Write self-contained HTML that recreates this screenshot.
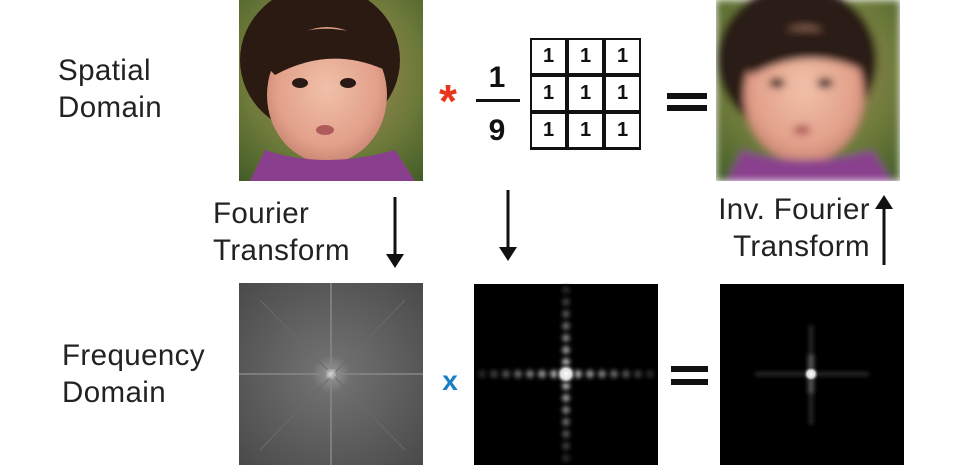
<!DOCTYPE html>
<html><head><meta charset="utf-8"><style>
html,body{margin:0;padding:0;background:#fff;}
body{width:953px;height:465px;position:relative;overflow:hidden;font-family:"Liberation Sans",sans-serif;color:#222;}
.t{position:absolute;font-size:29.5px;line-height:37px;letter-spacing:0.4px;}
.box{position:absolute;overflow:hidden;}
.cell{position:absolute;width:37px;height:37px;box-sizing:border-box;font-size:20px;font-weight:bold;text-align:center;line-height:33px;color:#111;}
</style></head><body>
<div class="t" style="left:58px;top:52px;">Spatial<br>Domain</div>
<div class="t" style="left:62px;top:337px;">Frequency<br>Domain</div>
<div class="t" style="left:213px;top:195px;">Fourier<br>Transform</div>
<div class="t" style="left:700px;top:191px;text-align:right;width:170px;">Inv. Fourier<br>Transform</div>

<svg width="953" height="465" style="position:absolute;left:0;top:0">
<defs>
<radialGradient id="bg1" cx="0.5" cy="0.4" r="0.8"><stop offset="0" stop-color="#b08a60"/><stop offset="0.6" stop-color="#6d7a3a"/><stop offset="1" stop-color="#3f5a25"/></radialGradient>
<radialGradient id="face" cx="0.5" cy="0.45" r="0.6"><stop offset="0" stop-color="#f0c0a8"/><stop offset="0.7" stop-color="#e2a08a"/><stop offset="1" stop-color="#c27e6c"/></radialGradient>
<filter id="blur"><feGaussianBlur stdDeviation="4"/></filter>
<filter id="blur2"><feGaussianBlur stdDeviation="2"/></filter>
<radialGradient id="fft" cx="0.5" cy="0.5" r="0.7"><stop offset="0" stop-color="#9a9a9a"/><stop offset="0.15" stop-color="#6e6e6e"/><stop offset="1" stop-color="#4a4a4a"/></radialGradient>
<radialGradient id="spot" cx="0.5" cy="0.5" r="0.5"><stop offset="0" stop-color="#fff"/><stop offset="0.5" stop-color="#ddd"/><stop offset="1" stop-color="#000" stop-opacity="0"/></radialGradient>
<clipPath id="c1"><rect x="239" y="0" width="184" height="181"/></clipPath>
<clipPath id="c2"><rect x="716" y="0" width="184" height="181"/></clipPath>
</defs>
<g clip-path="url(#c1)">
 <g id="photo">
 <rect x="239" y="0" width="184" height="181" fill="url(#bg1)"/>
 <ellipse cx="320" cy="60" rx="80" ry="75" fill="#2a1a12"/>
 <ellipse cx="327" cy="95" rx="60" ry="68" fill="url(#face)"/>
 <path d="M260 60 Q300 10 380 40 L385 70 Q330 45 275 75Z" fill="#2a1a12"/>
 <ellipse cx="300" cy="83" rx="8" ry="5" fill="#2a1814"/>
 <ellipse cx="348" cy="83" rx="8" ry="5" fill="#2a1814"/>
 <ellipse cx="325" cy="130" rx="9" ry="5" fill="#b05a5a"/>
 <path d="M250 181 L265 150 Q325 170 395 150 L415 181Z" fill="#8a3f8e"/>
 </g>
</g>
<g clip-path="url(#c2)" filter="url(#blur)">
 <use href="#photo" transform="translate(477,0)"/>
</g>

<text x="448" y="117" font-size="46" font-weight="bold" fill="#e8361c" text-anchor="middle">*</text>
<text x="497" y="87" font-size="30" font-weight="bold" fill="#111" text-anchor="middle">1</text>
<rect x="476" y="99" width="44" height="3" fill="#111"/>
<text x="497" y="140" font-size="30" font-weight="bold" fill="#111" text-anchor="middle">9</text>
<rect x="667" y="93" width="40" height="6" fill="#111"/>
<rect x="667" y="105" width="40" height="6" fill="#111"/>
<rect x="671" y="366" width="37" height="6" fill="#111"/>
<rect x="671" y="379" width="37" height="6" fill="#111"/>
<text x="450" y="390" font-size="28" font-weight="bold" fill="#1a7fc4" text-anchor="middle">x</text>

<g stroke="#111" stroke-width="3" fill="#111">
<line x1="395" y1="197" x2="395" y2="258"/><path d="M386 254 L404 254 L395 268Z" stroke="none"/></g>
<g stroke="#111" stroke-width="3" fill="#111">
<line x1="508" y1="190" x2="508" y2="251"/><path d="M499 247 L517 247 L508 261Z" stroke="none"/></g>
<g stroke="#111" stroke-width="3" fill="#111">
<line x1="884" y1="207" x2="884" y2="265"/><path d="M875 209 L893 209 L884 195Z" stroke="none"/></g>

<g>
<rect x="239" y="283" width="184" height="182" fill="url(#fft)"/>
<line x1="331" y1="283" x2="331" y2="465" stroke="#888" stroke-width="1.5"/>
<line x1="239" y1="374" x2="423" y2="374" stroke="#888" stroke-width="1.5"/>
<line x1="260" y1="300" x2="405" y2="450" stroke="#6a6a6a" stroke-width="1"/>
<line x1="405" y1="300" x2="260" y2="450" stroke="#6a6a6a" stroke-width="1"/>
<circle cx="331" cy="374" r="4" fill="#ddd" filter="url(#blur2)"/>
</g>
<g>
<rect x="474" y="284" width="184" height="181" fill="#000"/>
<g filter="url(#blur2)" id="kspots"></g>
<circle cx="566" cy="374" r="11" fill="url(#spot)"/>
</g>
<g>
<rect x="720" y="284" width="184" height="181" fill="#000"/>
<g filter="url(#blur2)">
<rect x="809" y="325" width="4" height="100" fill="#2a2a2a"/>
<rect x="755" y="372" width="114" height="4" fill="#2a2a2a"/>
<rect x="808" y="355" width="6" height="38" fill="#555"/>
</g>
<circle cx="811" cy="374" r="8" fill="url(#spot)"/>
</g>
</svg>

<div class="box" style="left:530px;top:38px;width:111px;height:112px;border:2.5px solid #111;box-sizing:border-box;">
</div>
<div id="grid"></div>
<script>
const kernelValues=[[1,1,1],[1,1,1],[1,1,1]];
const g=document.getElementById('grid');
kernelValues.forEach((row,r)=>row.forEach((v,c)=>{
 const d=document.createElement('div');
 d.className='cell';
 
 
 d.style.left=(530+c*37)+'px';d.style.top=(38+r*37)+'px';
 d.style.border='2.5px solid #111';
 d.textContent=v;g.appendChild(d);
}));
const ks=document.getElementById('kspots');
const NS='http://www.w3.org/2000/svg';
for(let k=-7;k<=7;k++){
 if(k===0)continue;
 const a=Math.abs(k);
 const b=Math.max(40,190-a*22);
 [[566+k*12,374],[566,374+k*12]].forEach(p=>{
  const e=document.createElementNS(NS,'ellipse');
  
  
  e.setAttribute('cx',p[0]);e.setAttribute('cy',p[1]);
  e.setAttribute('rx',4);e.setAttribute('ry',4);
  e.setAttribute('fill','rgb('+b+','+b+','+b+')');
  ks.appendChild(e);
 });
}
</script>
</body></html>
